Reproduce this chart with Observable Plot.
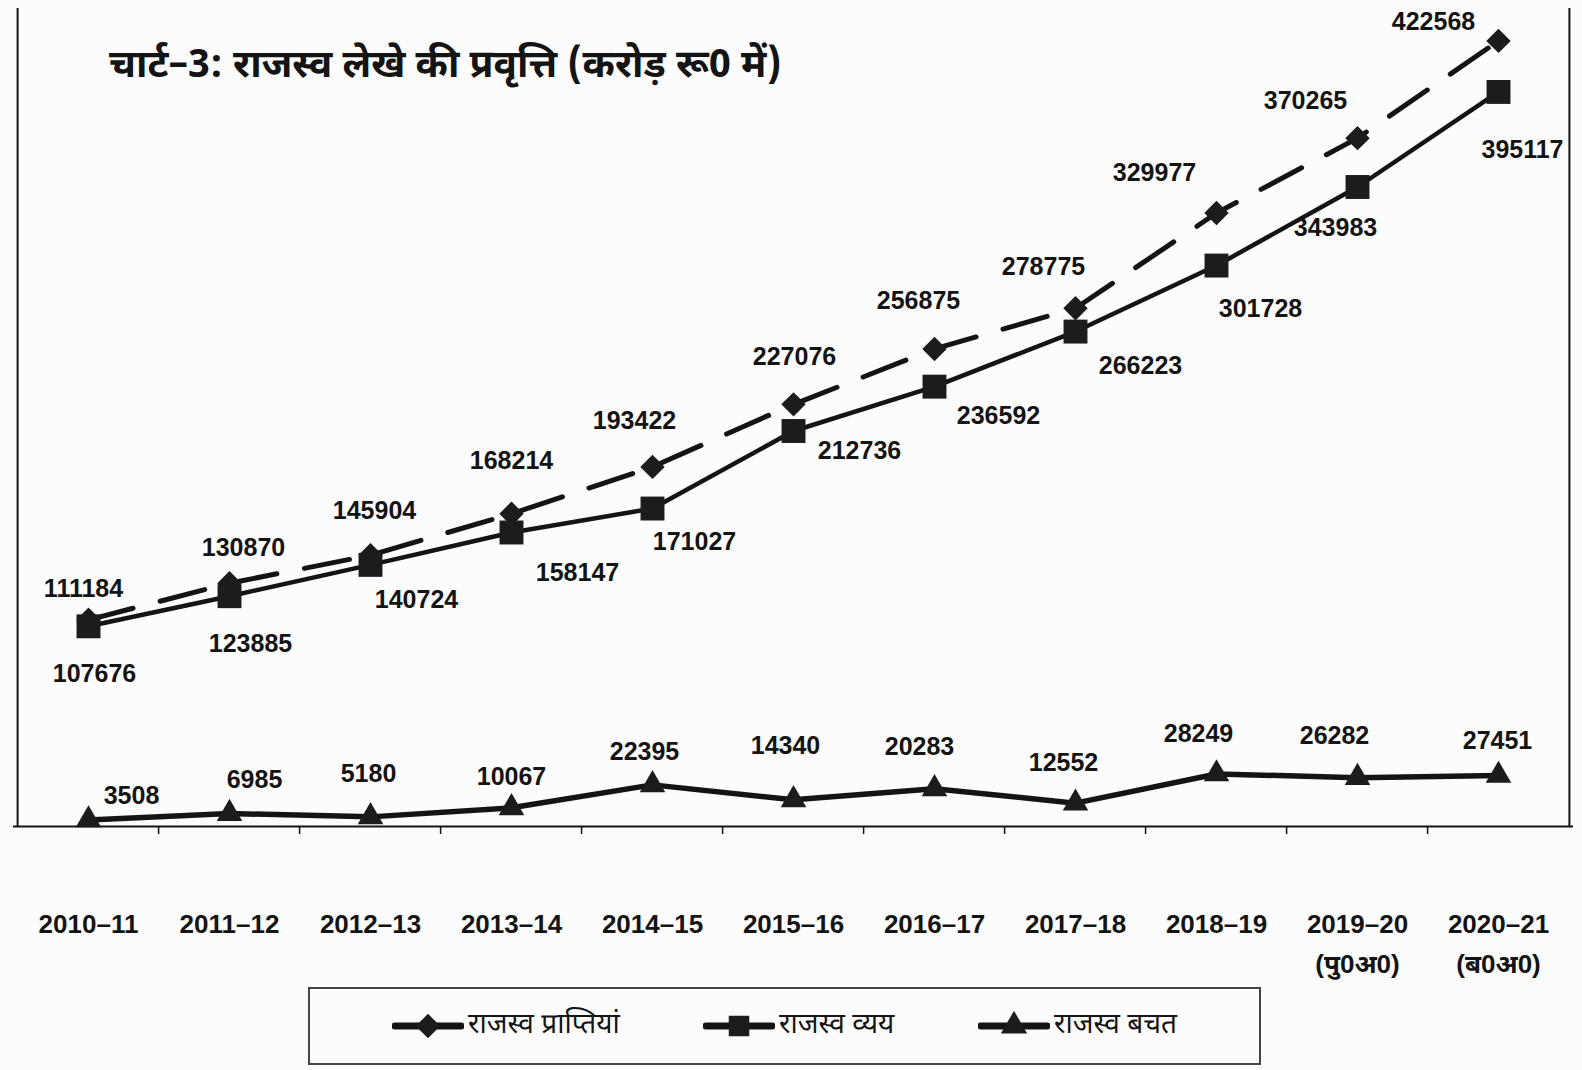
<!DOCTYPE html>
<html>
<head>
<meta charset="utf-8">
<script src="https://cdn.jsdelivr.net/npm/d3@7"></script>
<script src="https://cdn.jsdelivr.net/npm/@observablehq/plot@0.6"></script>
<style>
  html, body { margin: 0; padding: 0; background: #fcfcfc; }
  #wrap { position: relative; width: 1582px; height: 1070px; overflow: hidden; }
  #chart { position: absolute; left: 0; top: 0; }
  #title { position: absolute; left: 109px; top: 38px; font-size: 39px; font-weight: bold; line-height: 60px;
    font-family: "Noto Sans Devanagari", "Noto Sans", "Lohit Devanagari", "FreeSans", sans-serif; color: #141414; white-space: nowrap; }
  #legend { position: absolute; left: 308px; top: 987px; width: 953px; height: 78px; border: 2px solid #444; box-sizing: border-box; }
  .item { position: absolute; top: 0; height: 74px; display: flex; align-items: center; font-size: 28px;
    font-family: "Noto Sans Devanagari", "Noto Sans", "Lohit Devanagari", "FreeSans", sans-serif; color: #141414; }
</style>
</head>
<body>
<div id="wrap">
  <div id="chart"></div>
  <div id="title"></div>
  <div id="legend"></div>
</div>
<script>
// ---- data ----
const years = ["2010–11","2011–12","2012–13","2013–14","2014–15","2015–16","2016–17","2017–18","2018–19","2019–20","2020–21"];
const tickLabels = ["2010–11","2011–12","2012–13","2013–14","2014–15","2015–16","2016–17","2017–18","2018–19","2019–20\n(पु0अ0)","2020–21\n(ब0अ0)"];
const receipts = [111184,130870,145904,168214,193422,227076,256875,278775,329977,370265,422568];
const expenditure = [107676,123885,140724,158147,171027,212736,236592,266223,301728,343983,395117];
const savings = [3508,6985,5180,10067,22395,14340,20283,12552,28249,26282,27451];
const seriesNames = ["राजस्व प्राप्तियां","राजस्व व्यय","राजस्व बचत"];
const titleText = "चार्ट–3: राजस्व लेखे की प्रवृत्ति (करोड़ रू0 में)";

// ---- label nudges (pixels) ----
const recOff = [[-5,-31],[14,-35],[4,-44],[0,-53],[-18,-46],[1,-47],[-16,-48],[-32,-41],[-62,-40],[-52,-37],[-65,-19]];
const expOff = [[6,48],[21,48],[46,35],[66,41],[42,33],[66,20],[64,29],[65,34],[44,43],[-22,41],[24,58]];
const savOff = [[43,-24],[25,-34],[-2,-43],[0,-31],[-8,-33],[-8,-54],[-15,-42],[-12,-40],[-18,-40],[-23,-42],[-1,-34]];

const rows = years.map((y, i) => ({year: y, receipts: receipts[i], expenditure: expenditure[i], savings: savings[i], label: tickLabels[i]}));

const W = 1582, H = 980;
const mL = 13, mR = 9, mT = 8, mB = 154;
const step = (W - mL - mR) / years.length;
const ink = "#141414";

const series = [
  {key: "receipts", symbol: "diamond2", r: 11, dash: "46,28", width: 5, off: recOff},
  {key: "expenditure", symbol: "square", r: 13.5, dash: null, width: 4.5, off: expOff},
  {key: "savings", symbol: "triangle", r: 9.5, dash: null, width: 5.5, off: savOff}
];

const marks = [
  Plot.ruleY([0], {stroke: ink, strokeWidth: 2}),
  Plot.ruleX([years[0]], {stroke: ink, strokeWidth: 2, dx: -step / 2}),
  Plot.ruleX([years[years.length - 1]], {stroke: ink, strokeWidth: 2, dx: step / 2}),
  Plot.axisX({ticks: years.slice(1), tickSize: 8, tickFormat: () => "", dx: -step / 2, stroke: ink, strokeWidth: 1.5}),
  Plot.text(rows, {x: "year", text: "label", frameAnchor: "bottom", lineAnchor: "top", dy: 78, lineHeight: 1.55,
    fontSize: 26, fontWeight: "bold", fill: ink})
];

for (const s of series) {
  marks.push(Plot.line(rows, {x: "year", y: s.key, stroke: ink, strokeWidth: s.width, strokeLinecap: "round",
    strokeLinejoin: "round", strokeDasharray: s.dash || undefined}));
  marks.push(Plot.dot(rows, {x: "year", y: s.key, symbol: s.symbol, r: s.r, fill: "#1c1c1c", stroke: "none"}));
  rows.forEach((d, i) => {
    marks.push(Plot.text([d], {x: "year", y: s.key, text: v => String(v[s.key]), dx: s.off[i][0], dy: s.off[i][1],
      fontSize: 25, fontWeight: "bold", fill: ink}));
  });
}

const chart = Plot.plot({
  width: W, height: H,
  marginLeft: mL, marginRight: mR, marginTop: mT, marginBottom: mB,
  x: {type: "point", domain: years, padding: 0.5, label: null},
  y: {domain: [0, 440000], axis: null},
  style: {fontFamily: "'Liberation Sans', Arial, 'Noto Sans Devanagari', 'Noto Sans', sans-serif", background: "transparent", overflow: "visible"},
  marks
});
document.getElementById("chart").appendChild(chart);
document.getElementById("title").textContent = titleText;

// ---- legend ----
const legend = document.getElementById("legend");
const legendLeft = [82, 393, 668];
const legendSym = [d3.symbolDiamond2, d3.symbolSquare, d3.symbolTriangle];
const legendSize = [380, 420, 300];
seriesNames.forEach((name, i) => {
  const item = document.createElement("div");
  item.className = "item";
  item.style.left = legendLeft[i] + "px";
  const svg = d3.create("svg").attr("width", 72).attr("height", 30).style("margin-right", "4px");
  svg.append("line").attr("x1", 3).attr("x2", 69).attr("y1", 15).attr("y2", 15)
    .attr("stroke", ink).attr("stroke-width", 7).attr("stroke-linecap", "round");
  svg.append("path").attr("transform", "translate(36,15)")
    .attr("d", d3.symbol(legendSym[i], legendSize[i])()).attr("fill", "#1c1c1c");
  item.appendChild(svg.node());
  const span = document.createElement("span");
  span.textContent = name;
  item.appendChild(span);
  legend.appendChild(item);
});
</script>
</body>
</html>
